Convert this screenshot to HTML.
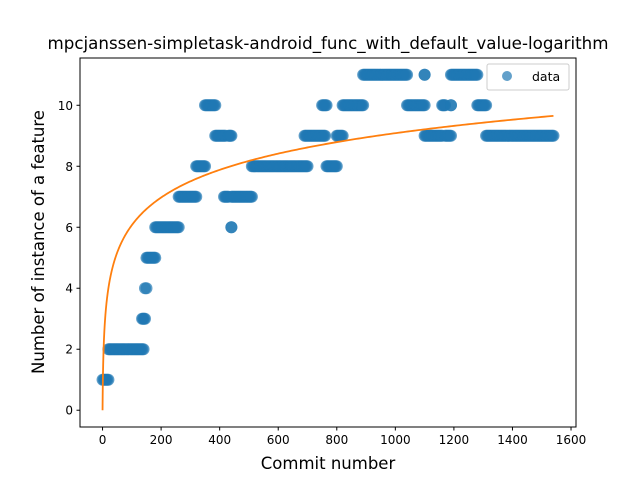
<!DOCTYPE html>
<html><head><meta charset="utf-8"><style>
body{margin:0;background:#fff;}
svg text{font-family:"DejaVu Sans","Liberation Sans",sans-serif;}
</style></head><body>
<svg id="chart" width="640" height="480" xmlns="http://www.w3.org/2000/svg">
<rect width="640" height="480" fill="#fff"/>
<text x="328" y="49" text-anchor="middle" font-size="16.5" textLength="561" lengthAdjust="spacingAndGlyphs">mpcjanssen-simpletask-android_func_with_default_value-logarithm</text>
<g id="plot"></g>
<text x="328" y="469" text-anchor="middle" font-size="16.5">Commit number</text>
<text transform="translate(44,242) rotate(-90)" text-anchor="middle" font-size="16.5">Number of instance of a feature</text>
<g>
<rect x="487" y="64" width="82" height="26" rx="2" fill="#fff" fill-opacity="0.8" stroke="#ccc"/>
<circle cx="507" cy="76" r="5" fill="#1f77b4" fill-opacity="0.7"/>
<text x="532" y="81" font-size="12.5">data</text>
</g>
</svg>
<script>
const runStart=[0,20,135,145,150,180,260,320,350,385,415,430,440,440,510,690,750,765,800,820,890,1040,1100,1100,1160,1170,1190,1190,1280,1310];
const runEnd=[20,140,145,150,180,260,320,350,385,420,430,440,440,510,700,760,765,800,820,890,1040,1100,1100,1160,1170,1190,1190,1280,1310,1540];
const runValue=[1,2,3,4,5,6,7,8,10,9,7,9,6,7,8,9,10,8,9,10,11,10,11,9,10,9,10,11,10,9];
const xTicks=[0,200,400,600,800,1000,1200,1400,1600];
const yTicks=[0,2,4,6,8,10];
const fitA=0, fitB=1.315, fitMax=1540;
const L=80,R=576,T=58,B=427,xmin=-77,xmax=1617,ymin=-0.55,ymax=11.55;
const X=v=>L+(v-xmin)/(xmax-xmin)*(R-L);
const Y=v=>B-(v-ymin)/(ymax-ymin)*(B-T);
const NS="http://www.w3.org/2000/svg";
const g=document.getElementById('plot');
function mk(t,a,p){const e=document.createElementNS(NS,t);for(const k in a)e.setAttribute(k,a[k]);(p||g).appendChild(e);return e;}
for(let i=0;i<runStart.length;i++){
  const s=runStart[i],e=runEnd[i];
  const n=Math.max(1,Math.round((e-s)/4));
  for(let j=0;j<=n;j++){
    const xv=s+(e-s)*j/n;
    const c=mk('circle',{cx:X(xv),cy:Y(runValue[i]),r:6,fill:'#1f77b4','fill-opacity':0.7});
    
    
  }
}
let d='';
for(let k=0;k<=300;k++){const xv=fitMax*Math.pow(k/300,2);const yv=fitA+fitB*Math.log(xv+1);d+=(k?'L':'M')+X(xv).toFixed(2)+','+Y(yv).toFixed(2);}
const fl=mk('path',{d:d,fill:'none',stroke:'#ff7f0e','stroke-width':1.8});


const fr=mk('rect',{x:L,y:T,width:R-L,height:B-T,fill:'none',stroke:'#000','stroke-width':1});


xTicks.forEach(v=>{
  mk('line',{x1:X(v),x2:X(v),y1:B,y2:B+3.5,stroke:'#000'});
  const t=mk('text',{x:X(v),y:B+17,'text-anchor':'middle','font-size':12});
  t.textContent=v;
  
  
});
yTicks.forEach(v=>{
  mk('line',{x1:L-3.5,x2:L,y1:Y(v),y2:Y(v),stroke:'#000'});
  const t=mk('text',{x:L-7,y:Y(v)+4.5,'text-anchor':'end','font-size':12});
  t.textContent=v;
  
  
});
</script>
</body></html>
